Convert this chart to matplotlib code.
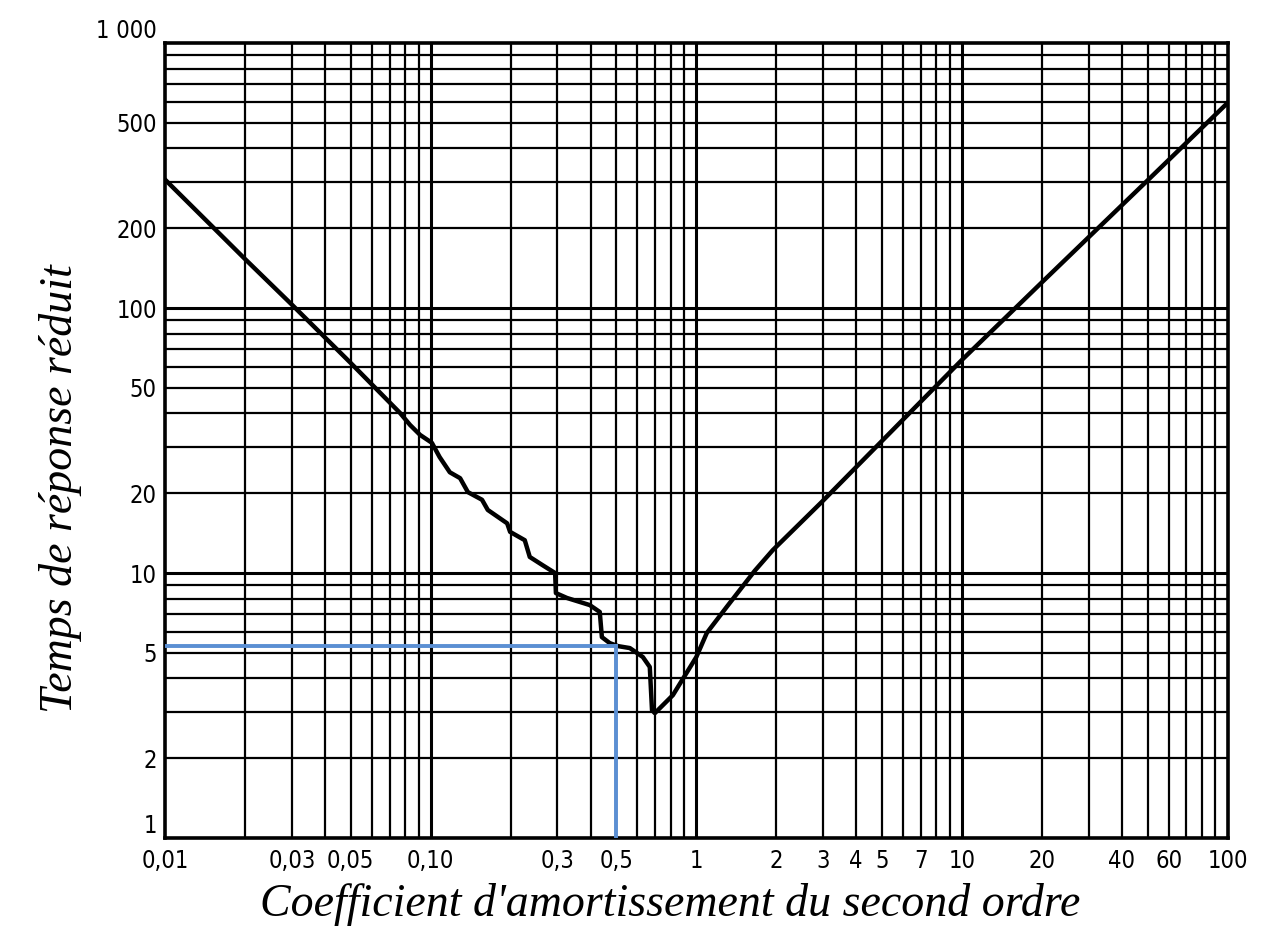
import numpy as np
import matplotlib
matplotlib.use("Agg")
import matplotlib.pyplot as plt
from matplotlib.ticker import FixedLocator, FixedFormatter, NullLocator

# ---- data ----
zeta = [0.01, 0.02, 0.03, 0.05, 0.0766, 0.0836, 0.0912, 0.101, 0.108, 0.118, 0.129,
        0.138, 0.156, 0.164, 0.194, 0.199, 0.226, 0.236, 0.264, 0.294, 0.296,
        0.326, 0.397, 0.433, 0.441, 0.472, 0.507, 0.562, 0.629, 0.668, 0.681,
        0.698, 0.816, 1.0, 1.095, 1.30, 1.66, 1.94, 2.96, 10.0, 20.0, 30.0,
        50.0, 100.0]
t_red = [305, 153, 103, 62, 40.2, 36.2, 33.2, 31.0, 27.4, 24.0, 22.8,
         20.2, 18.9, 17.3, 15.4, 14.3, 13.3, 11.5, 10.7, 10.0, 8.4,
         8.05, 7.57, 7.13, 5.73, 5.44, 5.30, 5.21, 4.82, 4.42, 3.04,
         2.96, 3.46, 4.82, 5.94, 7.44, 10.2, 12.2, 18.5, 63.7, 125, 185,
         303, 594]

# reading lines (blue)
read_x = 0.5
read_y = 5.3

x_ticks = [0.01, 0.03, 0.05, 0.10, 0.3, 0.5, 1, 2, 3, 4, 5, 7, 10, 20, 40, 60, 100]
x_labels = ["0,01", "0,03", "0,05", "0,10", "0,3", "0,5", "1", "2", "3", "4", "5",
            "7", "10", "20", "40", "60", "100"]
y_ticks = [1, 2, 5, 10, 20, 50, 100, 200, 500, 1000]
y_labels = ["1", "2", "5", "10", "20", "50", "100", "200", "500", "1 000"]

x_label = "Coefficient d'amortissement du second ordre"
y_label = "Temps de réponse réduit"

# ---- figure ----
fig = plt.figure(figsize=(12.8, 9.35), dpi=100)
ax = fig.add_axes([0.129, 0.1037, 0.830, 0.8503])
ax.set_xscale("log")
ax.set_yscale("log")
ax.set_xlim(0.01, 100)
ax.set_ylim(1, 1000)

# log paper grid
for dec in [0.01, 0.1, 1, 10]:
    for m in range(1, 10):
        v = dec * m
        if 0.01 < v < 100:
            ax.axvline(v, color="black", lw=2.2 if m == 1 else 1.6, zorder=1)
for dec in [1, 10, 100]:
    for m in range(1, 10):
        v = dec * m
        if 1 < v < 1000:
            ax.axhline(v, color="black", lw=2.2 if m == 1 else 1.6, zorder=1)

ax.plot(zeta, t_red, color="black", lw=3.2, zorder=3, solid_joinstyle="round")

blue = "#5b8fd3"
ax.plot([0.01, read_x], [read_y, read_y], color=blue, lw=2.8, zorder=4)
ax.plot([read_x, read_x], [1, read_y], color=blue, lw=2.8, zorder=4)

for s in ax.spines.values():
    s.set_linewidth(2.6)
    s.set_color("black")

ax.xaxis.set_major_locator(FixedLocator(x_ticks))
ax.xaxis.set_major_formatter(FixedFormatter(x_labels))
ax.xaxis.set_minor_locator(NullLocator())
ax.yaxis.set_major_locator(FixedLocator(y_ticks))
ax.yaxis.set_major_formatter(FixedFormatter(y_labels))
ax.yaxis.set_minor_locator(NullLocator())
ax.tick_params(axis="x", length=0, pad=8)
ax.tick_params(axis="y", length=0, pad=6)
for lab in ax.get_xticklabels() + ax.get_yticklabels():
    lab.set_fontfamily("DejaVu Sans")
    lab.set_fontstretch("condensed")
    lab.set_fontsize(17)
ylabs = ax.get_yticklabels()
ylabs[0].set_va("bottom")
ylabs[-1].set_va("bottom")

label_font = dict(family=["Liberation Serif", "DejaVu Serif"], style="italic", size=33)
ax.set_xlabel(x_label, **label_font)
ax.set_ylabel(y_label, **label_font)
ax.xaxis.set_label_coords(0.475, -0.056)
ax.yaxis.set_label_coords(-0.078, 0.44)

fig.savefig("out.png", dpi=100, facecolor="white")
